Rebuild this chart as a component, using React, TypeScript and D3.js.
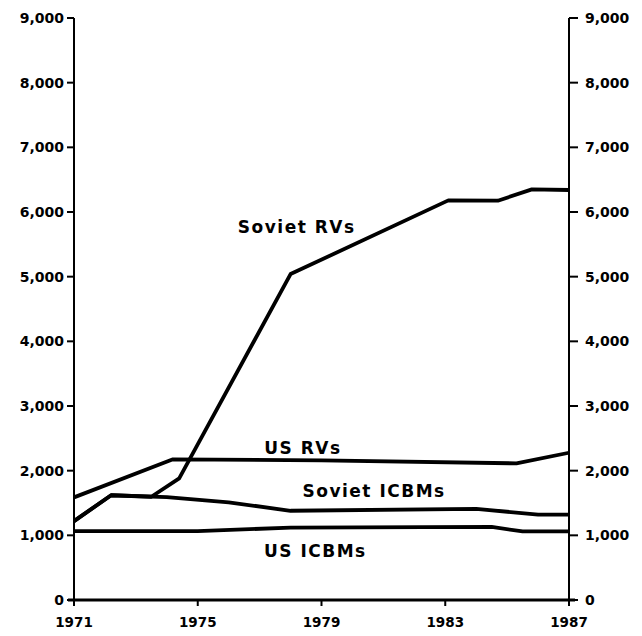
import React from "react";
import * as d3 from "d3";

const years = [1971, 1975, 1979, 1983, 1987];
const yTicks = [0, 1000, 2000, 3000, 4000, 5000, 6000, 7000, 8000, 9000];

const sovietRVs: [number, number][] = [
  [1971, 1220], [1972.2, 1620], [1973.5, 1597], [1974.4, 1880], [1978, 5040],
  [1983.1, 6180], [1984.7, 6175], [1985.8, 6350], [1987, 6340],
];
const usRVs: [number, number][] = [
  [1971, 1587], [1974.2, 2175], [1979, 2160], [1985.3, 2113], [1987, 2277],
];
const sovietICBMs: [number, number][] = [
  [1971, 1220], [1972.2, 1620], [1974, 1590], [1976, 1510], [1978, 1380],
  [1984, 1410], [1986, 1320], [1987, 1320],
];
const usICBMs: [number, number][] = [
  [1971, 1065], [1975, 1065], [1978, 1120], [1984.5, 1130], [1985.5, 1060], [1987, 1060],
];

const labels = [
  { text: "Soviet RVs", year: 1978.2, value: 5670 },
  { text: "US RVs", year: 1978.4, value: 2260 },
  { text: "Soviet ICBMs", year: 1980.7, value: 1590 },
  { text: "US ICBMs", year: 1978.8, value: 670 },
];

export default function App() {
  const W = 642, H = 636;
  const x = d3.scaleLinear().domain([1971, 1987]).range([74, 569]);
  const y = d3.scaleLinear().domain([0, 9000]).range([600, 18]);
  const line = d3.line<[number, number]>().x((d) => x(d[0])).y((d) => y(d[1]));
  const fmt = d3.format(",");
  const font = "'DejaVu Sans', sans-serif";
  const series = [sovietRVs, usRVs, sovietICBMs, usICBMs];
  return (
    <svg width={W} height={H} style={{ position: "absolute", left: 0, top: 0, background: "#fff" }}>
      {/* axes */}
      <line x1={x(1971)} x2={x(1971)} y1={y(9000)} y2={y(0)} stroke="#000" strokeWidth={2} />
      <line x1={x(1987)} x2={x(1987)} y1={y(9000)} y2={y(0)} stroke="#000" strokeWidth={2} />
      <line x1={x(1971) - 6} x2={x(1987) + 6} y1={y(0)} y2={y(0)} stroke="#000" strokeWidth={3} />
      {yTicks.map((t) => (
        <g key={t}>
          <line x1={x(1971) - 7} x2={x(1971)} y1={y(t)} y2={y(t)} stroke="#000" strokeWidth={2} />
          <line x1={x(1987)} x2={x(1987) + 9} y1={y(t)} y2={y(t)} stroke="#000" strokeWidth={2} />
          <text x={x(1971) - 10} y={y(t)} dy="0.35em" textAnchor="end" fontFamily={font} fontWeight="bold" fontSize={14}>
            {fmt(t)}
          </text>
          <text x={x(1987) + 16} y={y(t)} dy="0.35em" textAnchor="start" fontFamily={font} fontWeight="bold" fontSize={14}>
            {fmt(t)}
          </text>
        </g>
      ))}
      {years.map((yr) => (
        <g key={yr}>
          <line x1={x(yr)} x2={x(yr)} y1={y(0)} y2={y(0) + 6} stroke="#000" strokeWidth={2} />
          <text x={x(yr)} y={y(0) + 27} textAnchor="middle" fontFamily={font} fontWeight="bold" fontSize={13.5}>
            {yr}
          </text>
        </g>
      ))}
      {series.map((s, i) => (
        <path key={i} d={line(s) || ""} fill="none" stroke="#000" strokeWidth={3.8} strokeLinejoin="round" />
      ))}
      {labels.map((l) => (
        <text key={l.text} x={x(l.year)} y={y(l.value)} textAnchor="middle" fontFamily={font} fontWeight="bold" fontSize={17} letterSpacing={1.5}>
          {l.text}
        </text>
      ))}
    </svg>
  );
}
